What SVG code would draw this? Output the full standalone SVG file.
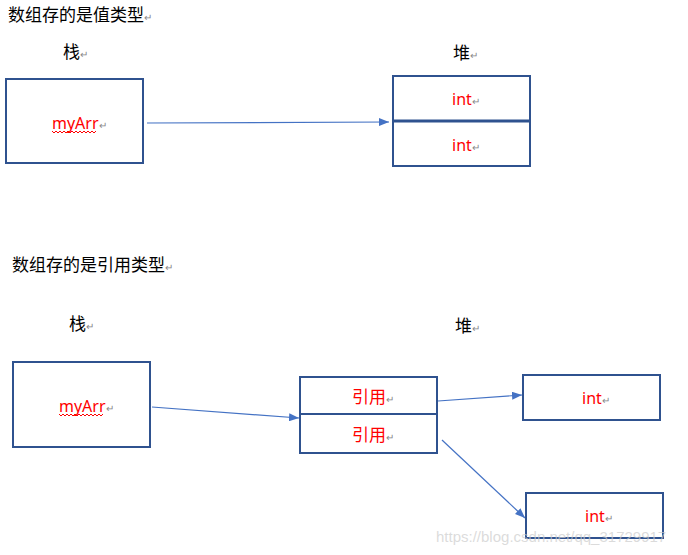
<svg xmlns="http://www.w3.org/2000/svg" width="688" height="555" viewBox="0 0 688 555">
<style>
.t{font-family:"Noto Sans CJK SC","Noto Sans",sans-serif;font-size:17px;fill:#000}
.r{font-family:"Noto Sans","Noto Sans CJK SC",sans-serif;font-size:16px;fill:#FF0000}
.rc{font-family:"Noto Sans CJK SC",sans-serif;font-size:17px;fill:#FF0000}
.m{font-family:"Noto Sans CJK SC",sans-serif;font-size:10px;fill:#888}
.box{fill:#fff;stroke:#2F528F;stroke-width:2}
.div{stroke:#2F528F;stroke-width:3}
.div2{stroke:#2F528F;stroke-width:2}
.c{stroke:#4472C4;stroke-width:1.2;fill:none;marker-end:url(#ah)}
.wave{stroke:#FF0000;stroke-width:1;fill:none}
</style>
<defs>
<marker id="ah" markerWidth="10" markerHeight="8" refX="10" refY="4" orient="auto" markerUnits="userSpaceOnUse">
<path d="M0,0 L10,4 L0,8 Z" fill="#4472C4"/>
</marker>
</defs>
<rect width="688" height="555" fill="#fff"/>
<g id="labels">
<text class="t" x="8" y="21">数组存的是值类型<tspan class="m">↵</tspan></text>
<text class="t" x="63" y="58">栈<tspan class="m">↵</tspan></text>
<text class="t" x="453" y="59">堆<tspan class="m">↵</tspan></text>
<text class="t" x="12" y="271">数组存的是引用类型<tspan class="m">↵</tspan></text>
<text class="t" x="69" y="330">栈<tspan class="m">↵</tspan></text>
<text class="t" x="455" y="332">堆<tspan class="m">↵</tspan></text>
</g>
<g id="connectors">
<line class="c" x1="147" y1="123" x2="389" y2="122"/>
<line class="c" x1="152" y1="407" x2="299" y2="418"/>
<line class="c" x1="438" y1="401" x2="522" y2="395"/>
<line class="c" x1="442" y1="440" x2="525" y2="518"/>
</g>
<g id="stack1">
<rect class="box" x="6" y="79" width="137" height="84"/>
<text class="r" x="52" y="129">myArr<tspan class="m">↵</tspan></text>
<path class="wave" d="M52,131 l2,2 l2,-2 l2,2 l2,-2 l2,2 l2,-2 l2,2 l2,-2 l2,2 l2,-2 l2,2 l2,-2 l2,2 l2,-2 l2,2 l2,-2 l2,2 l2,-2 l2,2 l2,-2 l2,2 l2,-2"/>
</g>
<g id="heap1">
<rect class="box" x="393" y="76" width="137" height="90"/>
<line class="div" x1="393" y1="121" x2="530" y2="121"/>
<text class="r" x="452" y="105">int<tspan class="m">↵</tspan></text>
<text class="r" x="452" y="151">int<tspan class="m">↵</tspan></text>
</g>
<g id="stack2">
<rect class="box" x="13" y="362" width="137" height="85"/>
<text class="r" x="59" y="412">myArr<tspan class="m">↵</tspan></text>
<path class="wave" d="M59,414 l2,2 l2,-2 l2,2 l2,-2 l2,2 l2,-2 l2,2 l2,-2 l2,2 l2,-2 l2,2 l2,-2 l2,2 l2,-2 l2,2 l2,-2 l2,2 l2,-2 l2,2 l2,-2 l2,2 l2,-2"/>
</g>
<g id="refs">
<rect class="box" x="300" y="377" width="137" height="76"/>
<line class="div2" x1="300" y1="414" x2="437" y2="414"/>
<text class="rc" x="352" y="403">引用<tspan class="m">↵</tspan></text>
<text class="rc" x="352" y="441">引用<tspan class="m">↵</tspan></text>
</g>
<g id="int1">
<rect class="box" x="523" y="375" width="137" height="45"/>
<text class="r" x="582" y="404">int<tspan class="m">↵</tspan></text>
</g>
<g id="int2">
<rect class="box" x="526" y="493" width="137" height="45"/>
<text class="r" x="585" y="522">int<tspan class="m">↵</tspan></text>
</g>
<text x="436" y="542" style="font-family:'Liberation Sans',sans-serif;font-size:15px;fill:#ccc;fill-opacity:0.7">https://blog.csdn.net/qq_31729917</text>
</svg>
